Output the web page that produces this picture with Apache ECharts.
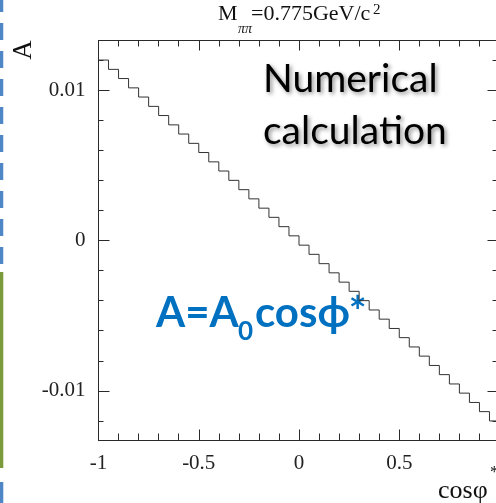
<!DOCTYPE html>
<html><head><meta charset="utf-8">
<script src="https://cdn.jsdelivr.net/npm/echarts@6/dist/echarts.min.js"></script>
<style>html,body{margin:0;padding:0;background:#fff}#c{width:496px;height:503px}</style>
</head><body><div id="c"></div>
<script>
// Histogram: 40 bins of cos(phi*) from -1 to 1
const xRange = [-1, 1];
const asymmetry = [0.01200,0.01138,0.01077,0.01015,0.00954,0.00892,0.00831,0.00769,0.00708,0.00646,
  0.00585,0.00523,0.00462,0.00400,0.00338,0.00277,0.00215,0.00154,0.00092,0.00031,
  -0.00031,-0.00092,-0.00154,-0.00215,-0.00277,-0.00338,-0.00400,-0.00462,-0.00523,-0.00585,
  -0.00646,-0.00708,-0.00769,-0.00831,-0.00892,-0.00954,-0.01015,-0.01077,-0.01138,-0.01200];
const xTickLabels = [-1, -0.5, 0, 0.5, 1];
const yRange = [-0.0133, 0.0133];
const yMajorTicks = [-0.01, 0, 0.01];
const yMinorTicks = [-0.012, -0.008, -0.006, -0.004, -0.002, 0.002, 0.004, 0.006, 0.008, 0.012];

const nBins = asymmetry.length;
const binW = (xRange[1] - xRange[0]) / nBins;
const stepData = asymmetry.map((v, i) => [xRange[0] + i * binW, v]);
stepData.push([xRange[1], asymmetry[nBins - 1]]);

const AX = '#2a2a2a';
const serif = '"Liberation Serif", "Times New Roman", serif';
const chart = echarts.init(document.getElementById('c'), null, {renderer: 'canvas'});

function xAxisDef(pos, showLabel, majLen, minLen) {
  return {
    type: 'value', position: pos, min: xRange[0], max: xRange[1], interval: 0.5,
    axisLine: {show: true, onZero: false, lineStyle: {color: AX, width: 1}},
    axisTick: {show: true, inside: true, length: majLen, lineStyle: {color: AX, width: 1}},
    minorTick: {show: true, splitNumber: 5, length: minLen, lineStyle: {color: AX, width: 1}},
    splitLine: {show: false}, minorSplitLine: {show: false},
    axisLabel: {show: showLabel, margin: 12, color: '#222', fontFamily: serif, fontSize: 21,
      customValues: xTickLabels, hideOverlap: false,
      formatter: v => String(v)}
  };
}
function yAxisDef(pos, showLine, ticks, len, labels) {
  return {
    type: 'value', position: pos, min: yRange[0], max: yRange[1],
    axisLine: {show: showLine, onZero: false, lineStyle: {color: AX, width: 1}},
    axisTick: {show: true, inside: true, length: len, customValues: ticks, lineStyle: {color: AX, width: 1}},
    splitLine: {show: false},
    axisLabel: labels ? {show: true, margin: 13, color: '#222', fontFamily: serif, fontSize: 21,
      customValues: yMajorTicks, formatter: v => String(Math.round(v * 1000) / 1000)} : {show: false}
  };
}

const option = {
  animation: false,
  backgroundColor: '#fff',
  grid: {left: 98.5, top: 40.5, width: 401, height: 400, containLabel: false, outerBoundsMode: 'none'},
  xAxis: [xAxisDef('bottom', true, 11, 7), xAxisDef('top', false, 10, 6)],
  yAxis: [
    yAxisDef('left', true, yMajorTicks, 11, true),
    yAxisDef('left', false, yMinorTicks, 5, false),
    yAxisDef('right', true, yMajorTicks, 12, false),
    yAxisDef('right', false, yMinorTicks, 7, false)
  ],
  series: [{
    type: 'line', step: 'end', xAxisIndex: 0, yAxisIndex: 0,
    data: stepData, showSymbol: false, symbol: 'none', clip: false,
    lineStyle: {color: '#333', width: 1}
  }],
  graphic: [
    // left decoration strip
    {type: 'line', shape: {x1: 1.6, y1: -5, x2: 1.6, y2: 272}, style: {stroke: '#4F86C6', lineWidth: 3.3, lineDash: [17, 11]}},
    {type: 'rect', shape: {x: 0, y: 482, width: 3.3, height: 21}, style: {fill: '#4F86C6'}},
    {type: 'rect', shape: {x: 0, y: 272, width: 3.3, height: 196}, style: {fill: '#7A9A3C'}},
    // title pieces
    {type: 'text', x: 218, y: 14, style: {text: 'M', font: '22px ' + serif, fill: '#111', verticalAlign: 'middle'}},
    {type: 'text', x: 238, y: 29, style: {text: 'ππ', font: 'italic 14px ' + serif, fill: '#111', verticalAlign: 'middle'}},
    {type: 'text', x: 251, y: 14, style: {text: '=0.775GeV/c', font: '22px ' + serif, fill: '#111', verticalAlign: 'middle'}},
    {type: 'text', x: 373, y: 10, style: {text: '2', font: '15px ' + serif, fill: '#111', verticalAlign: 'middle'}},
    // y axis name
    {type: 'text', x: 24, y: 50, rotation: Math.PI / 2, style: {text: 'A', font: '27px ' + serif, fill: '#111', align: 'center', verticalAlign: 'middle'}},
    // x axis name
    {type: 'text', x: 438, y: 491, style: {text: 'cosφ', font: '26px ' + serif, fill: '#111', verticalAlign: 'middle'}},
    {type: 'text', x: 490, y: 473, style: {text: '*', font: '17px ' + serif, fill: '#111', verticalAlign: 'middle'}},
    // annotations
    {type: 'text', x: 263, y: 79, style: {text: 'Numerical', font: '39px Lato', fill: '#000', verticalAlign: 'middle',
      textShadowColor: 'rgba(0,0,0,0.45)', textShadowBlur: 4, textShadowOffsetX: 2, textShadowOffsetY: 2}},
    {type: 'text', x: 263, y: 131, style: {text: 'calculation', font: '39px Lato', fill: '#000', verticalAlign: 'middle',
      textShadowColor: 'rgba(0,0,0,0.45)', textShadowBlur: 4, textShadowOffsetX: 2, textShadowOffsetY: 2}},
    {type: 'text', x: 156, y: 313, style: {text: 'A=A', font: 'bold 42px Lato', fill: '#0070C0', verticalAlign: 'middle'}},
    {type: 'text', x: 238, y: 332, style: {text: '0', font: 'bold 26px Lato', fill: '#0070C0', verticalAlign: 'middle'}},
    {type: 'text', x: 255, y: 313, style: {text: 'cos\u03D5*', font: 'bold 42px Lato, "DejaVu Sans"', fill: '#0070C0', verticalAlign: 'middle'}}
  ]
};
chart.setOption(option);
</script>
</body></html>
